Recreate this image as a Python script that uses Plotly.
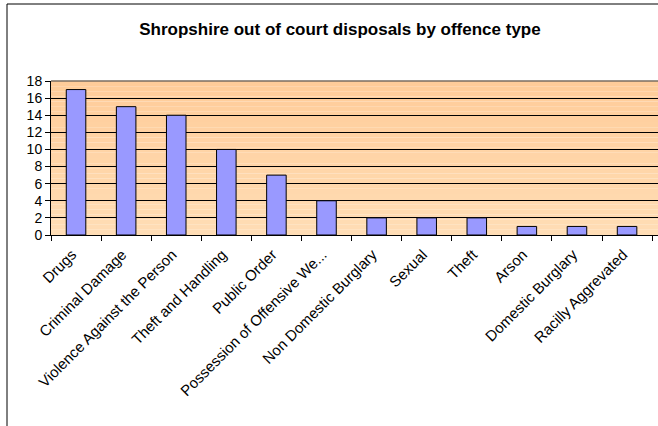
import plotly.graph_objects as go

categories = ["Drugs", "Criminal Damage", "Violence Against the Person", "Theft and Handling",
              "Public Order", "Possession of Offensive We...", "Non Domestic Burglary", "Sexual",
              "Theft", "Arson", "Domestic Burglary", "Racilly Aggrevated"]
values = [17, 15, 14, 10, 7, 4, 2, 2, 2, 1, 1, 1]
y_ticks = [0, 2, 4, 6, 8, 10, 12, 14, 16, 18]

W, H = 658, 426
L, R, T, B = 51, 0, 81, 191
pw = W - L - R
ph = H - T - B

fig = go.Figure()
fig.add_trace(go.Bar(
    x=categories, y=values,
    marker=dict(color="#9999FF", line=dict(color="#000000", width=1)),
    hoverinfo="x+y",
))

shapes = []
n = 30
c_top = (255, 204, 153)
c_bot = (255, 221, 181)
for i in range(n):
    t = i / (n - 1)
    c = tuple(round(c_bot[k] + (c_top[k] - c_bot[k]) * t) for k in range(3))
    shapes.append(dict(type="rect", xref="x domain", yref="y domain",
                       x0=0, x1=1, y0=i / n, y1=(i + 1) / n,
                       fillcolor="rgb(%d,%d,%d)" % c, line=dict(width=0), layer="below"))
# grey plot-area top border
shapes.append(dict(type="line", xref="x domain", yref="y domain", x0=0, x1=1, y0=1, y1=1,
                   line=dict(color="#7a6e62", width=1.5), layer="above"))
# outer chart border
shapes.append(dict(type="rect", xref="paper", yref="paper",
                   x0=(7 - L) / pw, x1=1.2, y0=-3, y1=1 + (T - 4) / ph,
                   line=dict(color="#000000", width=1), fillcolor="rgba(0,0,0,0)", layer="above"))

fig.update_layout(
    width=W, height=H,
    margin=dict(l=L, r=R, t=T, b=B),
    paper_bgcolor="#FFFFFF",
    plot_bgcolor="rgba(0,0,0,0)",
    showlegend=False,
    bargap=0.61,
    shapes=shapes,
    title=dict(text="<b>Shropshire out of court disposals by offence type</b>",
               x=340 / W, xanchor="center", y=1 - 29 / H, yanchor="middle",
               font=dict(family="Liberation Sans, Arial", size=17, color="#000000")),
    font=dict(family="Liberation Sans, Arial", size=14, color="#000000"),
)
fig.update_xaxes(
    range=[-0.5, 11.5 + 6 / 51], tickangle=-45, tickson="boundaries",
    ticks="outside", ticklen=5, tickcolor="#000000",
    ticklabelstandoff=4, ticklabelshift=-4,
    showline=True, linecolor="#000000", linewidth=1,
    showgrid=False, zeroline=False, fixedrange=True, automargin=False,
    tickfont=dict(family="Liberation Sans, Arial", size=15, color="#000000"),
)
fig.update_yaxes(
    range=[0, 18], tickvals=y_ticks, ticks="outside", ticklen=5, tickcolor="#000000",
    showline=True, linecolor="#000000", linewidth=1,
    showgrid=True, gridcolor="#000000", gridwidth=1, zeroline=False, fixedrange=True,
    automargin=False,
    tickfont=dict(family="Liberation Sans, Arial", size=14, color="#000000"),
)
fig.write_html("out.html", config={"displayModeBar": False},
               post_script="document.body.style.margin='0';")
